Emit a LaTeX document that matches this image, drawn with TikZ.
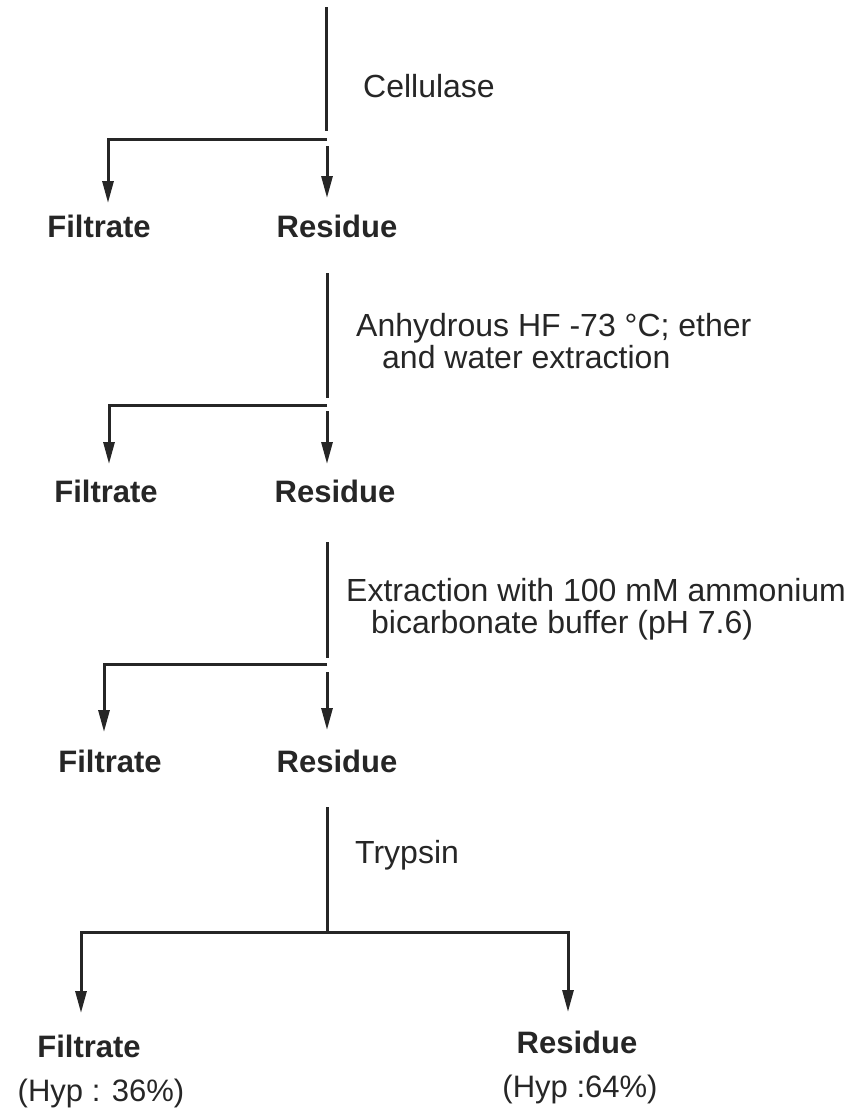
\documentclass[tikz,border=0pt]{standalone}
\usepackage{fontspec}
\setmainfont{Liberation Sans}
\usetikzlibrary{arrows.meta}
\begin{document}
\begin{tikzpicture}[x=1pt,y=-1pt,
  flow/.style={line width=3pt, draw=black!85, line join=miter},
  arr/.style={flow,-{Triangle[length=22pt,width=11pt]}},
  prod/.style={font=\fontsize{31}{36}\selectfont\bfseries, inner sep=0pt, text=black!85},
  reag/.style={font=\fontsize{32}{32}\selectfont, inner sep=0pt, anchor=west, align=left, text=black!85},
  hyp/.style={font=\fontsize{31}{36}\selectfont, inner sep=0pt, text=black!85}]
\useasboundingbox (0,0) rectangle (848,1114);

% ---- step 1: Cellulase
\coordinate (s1) at (326,7);
\coordinate (e1) at (326,131);
\coordinate (hL1) at (108,139);
\coordinate (hR1) at (327,139);
\coordinate (r1s) at (327,146);
\coordinate (r1t) at (327,198);
\coordinate (f1t) at (108,203);
\node[reag] (c1) at (363,86) {Cellulase};
\node[prod] (f1) at (99,226) {Filtrate};
\node[prod] (r1) at (337,226) {Residue};
\draw[flow] (s1) -- (e1);
\draw[arr] (hR1) -- (hL1) -- (f1t);
\draw[arr] (r1s) -- (r1t);

% ---- step 2: HF
\coordinate (s2) at (327,273);
\coordinate (e2) at (327,398);
\coordinate (hL2) at (109,405);
\coordinate (hR2) at (327,405);
\coordinate (r2s) at (327,411);
\coordinate (r2t) at (327,464);
\coordinate (f2t) at (109,464);
\node[reag] (c2) at (356,341) {Anhydrous HF -73 °C; ether\\\hspace*{26pt}and water extraction};
\node[prod] (f2) at (106,491) {Filtrate};
\node[prod] (r2) at (335,491) {Residue};
\draw[flow] (s2) -- (e2);
\draw[arr] (hR2) -- (hL2) -- (f2t);
\draw[arr] (r2s) -- (r2t);

% ---- step 3: bicarbonate
\coordinate (s3) at (327,542);
\coordinate (e3) at (327,658);
\coordinate (hL3) at (104,664);
\coordinate (hR3) at (327,664);
\coordinate (r3s) at (327,672);
\coordinate (r3t) at (327,730);
\coordinate (f3t) at (104,732);
\node[reag] (c3) at (346,609) {Extraction with 100 mM ammonium\\\hspace*{25pt}bicarbonate buffer (pH 7.6)};
\node[prod] (f3) at (110,761) {Filtrate};
\node[prod] (r3) at (337,761) {Residue};
\draw[flow] (s3) -- (e3);
\draw[arr] (hR3) -- (hL3) -- (f3t);
\draw[arr] (r3s) -- (r3t);

% ---- step 4: Trypsin
\coordinate (s4) at (327,807);
\coordinate (hC4) at (327,932);
\coordinate (hL4) at (81,932);
\coordinate (hR4) at (568,932);
\coordinate (f4t) at (81,1013);
\coordinate (r4t) at (568,1012);
\node[reag] (c4) at (355,855) {Trypsin};
\node[prod] (f4) at (89,1046) {Filtrate};
\node[hyp] (f4h) at (101,1093) {(Hyp : 36\%)};
\node[prod] (r4) at (577,1042) {Residue};
\node[hyp] (r4h) at (580,1089) {(Hyp :64\%)};
\draw[flow] (s4) -- (hC4);
\draw[arr] (hC4) -- (hL4) -- (f4t);
\draw[arr] (hC4) -- (hR4) -- (r4t);
\end{tikzpicture}
\end{document}
